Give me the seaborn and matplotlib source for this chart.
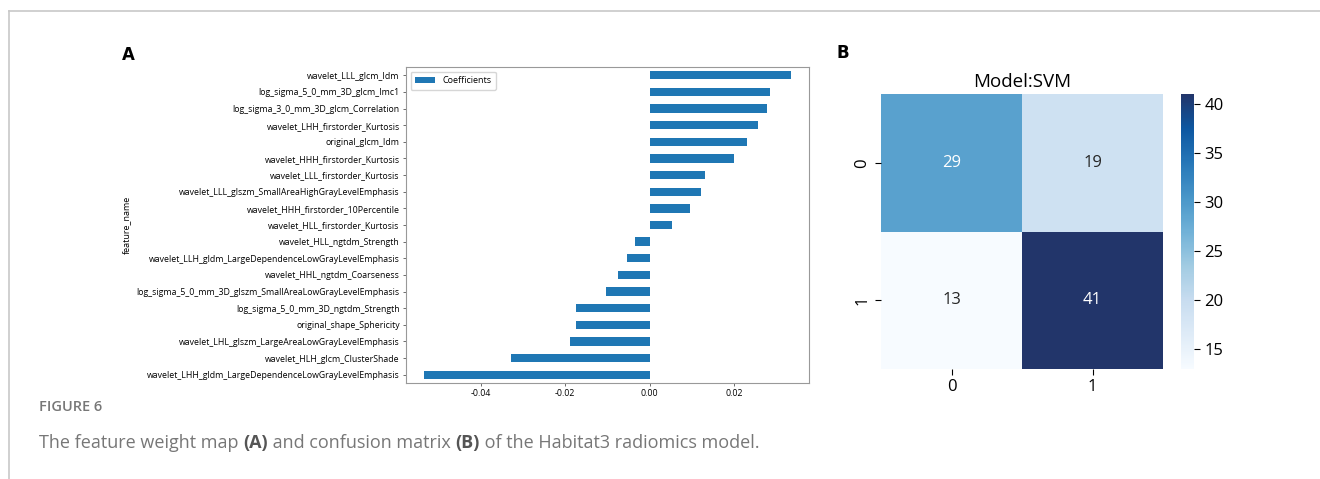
import matplotlib
matplotlib.use('Agg')
import matplotlib.pyplot as plt
from matplotlib.lines import Line2D
from matplotlib.colors import LinearSegmentedColormap
import seaborn as sns
import pandas as pd
import numpy as np

features = [
    'wavelet_LLL_glcm_Idm',
    'log_sigma_5_0_mm_3D_glcm_Imc1',
    'log_sigma_3_0_mm_3D_glcm_Correlation',
    'wavelet_LHH_firstorder_Kurtosis',
    'original_glcm_Idm',
    'wavelet_HHH_firstorder_Kurtosis',
    'wavelet_LLL_firstorder_Kurtosis',
    'wavelet_LLL_glszm_SmallAreaHighGrayLevelEmphasis',
    'wavelet_HHH_firstorder_10Percentile',
    'wavelet_HLL_firstorder_Kurtosis',
    'wavelet_HLL_ngtdm_Strength',
    'wavelet_LLH_gldm_LargeDependenceLowGrayLevelEmphasis',
    'wavelet_HHL_ngtdm_Coarseness',
    'log_sigma_5_0_mm_3D_glszm_SmallAreaLowGrayLevelEmphasis',
    'log_sigma_5_0_mm_3D_ngtdm_Strength',
    'original_shape_Sphericity',
    'wavelet_LHL_glszm_LargeAreaLowGrayLevelEmphasis',
    'wavelet_HLH_glcm_ClusterShade',
    'wavelet_LHH_gldm_LargeDependenceLowGrayLevelEmphasis',
]
coefs = [0.0333, 0.0283, 0.0276, 0.0255, 0.0230, 0.0200, 0.0130, 0.0120,
         0.0094, 0.0053, -0.0035, -0.0054, -0.0075, -0.0103, -0.0174,
         -0.0175, -0.0189, -0.0329, -0.0533]

cm_labels = ['0', '1']
cm_values = [[29, 19],
             [13, 41]]

plt.rcParams['font.family'] = ['Open Sans', 'DejaVu Sans']

fig = plt.figure(figsize=(13.2, 4.79), dpi=100)

# light frame around the figure panel
frame_col = '#c8c8c8'
fig.add_artist(Line2D([9 / 1320, 9 / 1320], [0, 1 - 11 / 479], color=frame_col, lw=1.2))
fig.add_artist(Line2D([9 / 1320, 1], [1 - 11 / 479, 1 - 11 / 479], color=frame_col, lw=1.2))

# panel A: feature coefficients
df = pd.DataFrame({'feature_name': features, 'Coefficients': coefs})
ax1 = fig.add_axes([406 / 1320, 1 - 383 / 479, 403 / 1320, 316 / 479])
sns.barplot(data=df, x='Coefficients', y='feature_name', orient='h',
            color='#1f77b4', saturation=1, width=0.5, label='Coefficients', ax=ax1)
ax1.margins(x=0.05)
ax1.set_xlabel('')
ax1.set_ylabel('feature_name', fontsize=6.5)
ax1.set_xticks([-0.04, -0.02, 0.0, 0.02])
ax1.set_xticklabels(['-0.04', '-0.02', '0.00', '0.02'])
ax1.tick_params(labelsize=6.3, length=2.5, width=0.6, color='#555555', pad=2)
for s in ax1.spines.values():
    s.set_color('#999999')
    s.set_linewidth(0.8)
ax1.legend(loc='upper left', fontsize=6.5, handlelength=2.2, borderpad=0.5)

# panel B: confusion matrix
blues = plt.get_cmap('Blues')
cmap = LinearSegmentedColormap.from_list(
    'blues_navy', list(blues(np.linspace(0, 0.85, 8))) + ['#22356a'])

ax2 = fig.add_axes([881 / 1320, 1 - 369 / 479, 282 / 1320, 275 / 479])
cax = fig.add_axes([1181 / 1320, 1 - 369 / 479, 13 / 1320, 275 / 479])
sns.heatmap(np.array(cm_values), annot=True, fmt='d', cmap=cmap, ax=ax2,
            cbar_ax=cax, xticklabels=cm_labels, yticklabels=cm_labels,
            annot_kws={'fontsize': 12})
ax2.set_title('Model:SVM', fontsize=13.5, pad=5)
ax2.tick_params(labelsize=12, length=4, width=0.8)
cax.tick_params(labelsize=12, length=4, width=0.8)
cax.set_yticks([15, 20, 25, 30, 35, 40])
for s in cax.spines.values():
    s.set_visible(False)

# panel letters
fig.text(122 / 1320, 1 - 55 / 479, 'A', fontsize=12, fontweight='bold',
         family='DejaVu Sans', va='center')
fig.text(837 / 1320, 1 - 53 / 479, 'B', fontsize=12, fontweight='bold',
         family='DejaVu Sans', va='center')

# caption, pieces chained one after the other
fig.text(39 / 1320, 1 - 411 / 479, 'FIGURE 6', fontsize=10.5, color='#777777',
         fontweight='semibold')
parts = [('The feature weight map ', 'normal'), ('(A)', 'bold'),
         (' and confusion matrix ', 'normal'), ('(B)', 'bold'),
         (' of the Habitat3 radiomics model.', 'normal')]
last = None
for txt, w in parts:
    col = '#555555' if w == 'bold' else '#777777'
    if last is None:
        last = fig.text(39 / 1320, 1 - 448 / 479, txt, fontsize=13,
                        color=col, fontweight=w)
    else:
        last = ax1.annotate(txt, xy=(1, 0), xycoords=last, fontsize=13,
                            color=col, fontweight=w, va='bottom',
                            annotation_clip=False)

fig.savefig('out.png', dpi=100)
